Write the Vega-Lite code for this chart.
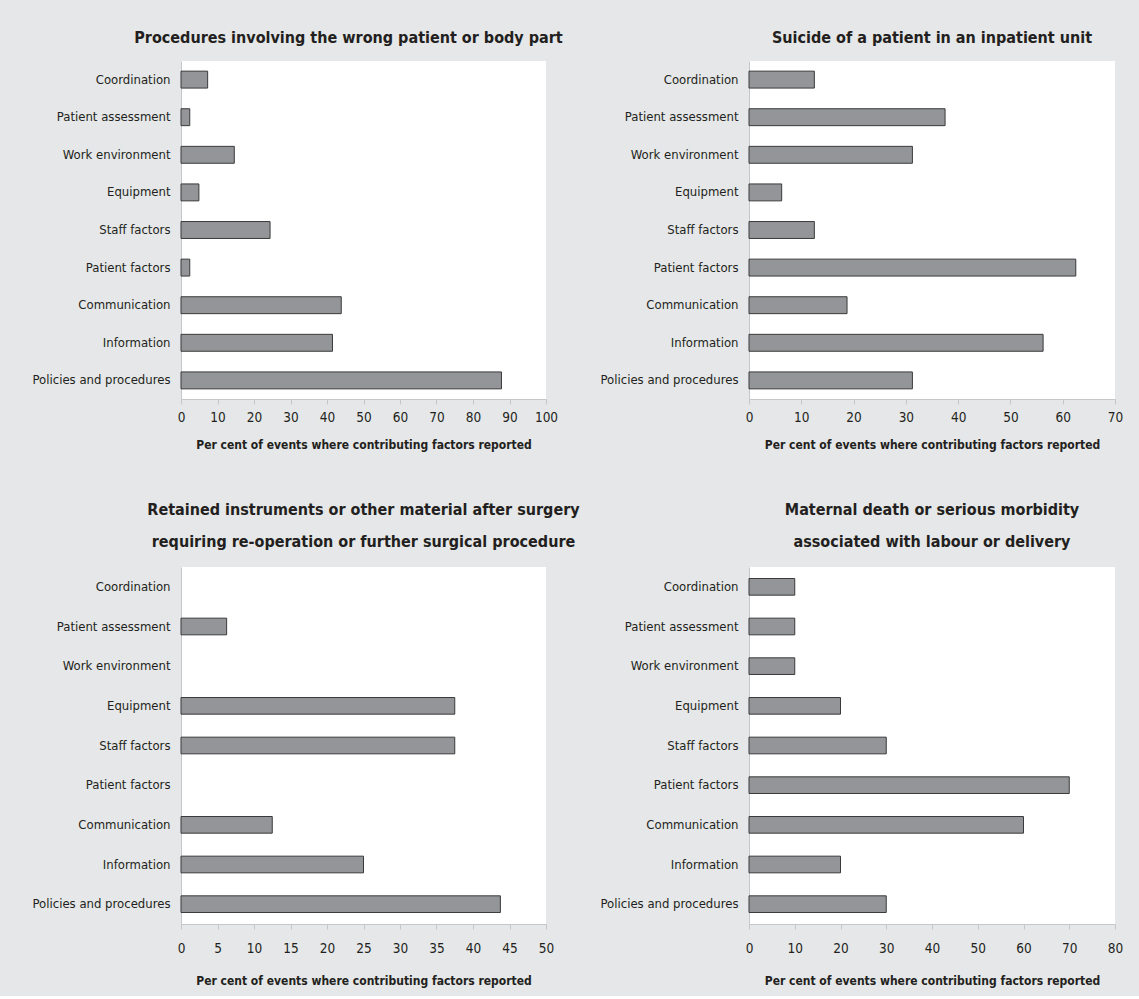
{
  "$schema": "https://vega.github.io/schema/vega-lite/v6.json",
  "padding": {"left": 31, "top": 30, "right": 18, "bottom": 9},
  "datasets": {
    "factors": [
      {"panel": "wrong", "factor": "Coordination", "pct": 7.3},
      {"panel": "wrong", "factor": "Patient assessment", "pct": 2.4},
      {"panel": "wrong", "factor": "Work environment", "pct": 14.6},
      {"panel": "wrong", "factor": "Equipment", "pct": 4.9},
      {"panel": "wrong", "factor": "Staff factors", "pct": 24.4},
      {"panel": "wrong", "factor": "Patient factors", "pct": 2.4},
      {"panel": "wrong", "factor": "Communication", "pct": 43.9},
      {"panel": "wrong", "factor": "Information", "pct": 41.5},
      {"panel": "wrong", "factor": "Policies and procedures", "pct": 87.8},
      {"panel": "suicide", "factor": "Coordination", "pct": 12.5},
      {"panel": "suicide", "factor": "Patient assessment", "pct": 37.5},
      {"panel": "suicide", "factor": "Work environment", "pct": 31.25},
      {"panel": "suicide", "factor": "Equipment", "pct": 6.25},
      {"panel": "suicide", "factor": "Staff factors", "pct": 12.5},
      {"panel": "suicide", "factor": "Patient factors", "pct": 62.5},
      {"panel": "suicide", "factor": "Communication", "pct": 18.75},
      {"panel": "suicide", "factor": "Information", "pct": 56.25},
      {"panel": "suicide", "factor": "Policies and procedures", "pct": 31.25},
      {"panel": "retained", "factor": "Coordination", "pct": 0},
      {"panel": "retained", "factor": "Patient assessment", "pct": 6.25},
      {"panel": "retained", "factor": "Work environment", "pct": 0},
      {"panel": "retained", "factor": "Equipment", "pct": 37.5},
      {"panel": "retained", "factor": "Staff factors", "pct": 37.5},
      {"panel": "retained", "factor": "Patient factors", "pct": 0},
      {"panel": "retained", "factor": "Communication", "pct": 12.5},
      {"panel": "retained", "factor": "Information", "pct": 25},
      {"panel": "retained", "factor": "Policies and procedures", "pct": 43.75},
      {"panel": "maternal", "factor": "Coordination", "pct": 10},
      {"panel": "maternal", "factor": "Patient assessment", "pct": 10},
      {"panel": "maternal", "factor": "Work environment", "pct": 10},
      {"panel": "maternal", "factor": "Equipment", "pct": 20},
      {"panel": "maternal", "factor": "Staff factors", "pct": 30},
      {"panel": "maternal", "factor": "Patient factors", "pct": 70},
      {"panel": "maternal", "factor": "Communication", "pct": 60},
      {"panel": "maternal", "factor": "Information", "pct": 20},
      {"panel": "maternal", "factor": "Policies and procedures", "pct": 30}
    ]
  },
  "vconcat": [
    {
      "hconcat": [
        {
          "data": {"name": "factors"},
          "transform": [{"filter": "datum.panel === 'wrong' && datum.pct > 0"}],
          "title": {"text": "Procedures involving the wrong patient or body part", "offset": 15, "dx": -15},
          "width": 365,
          "height": 338,
          "mark": {"type": "bar", "color": "#939598", "stroke": "#3a3a3a", "strokeWidth": 1},
          "encoding": {
            "y": {"field": "factor", "type": "nominal", "title": null,
                  "scale": {"domain": ["Coordination", "Patient assessment", "Work environment", "Equipment", "Staff factors", "Patient factors", "Communication", "Information", "Policies and procedures"], "paddingInner": 0.55, "paddingOuter": 0.27}},
            "x": {"field": "pct", "type": "quantitative", "title": "Per cent of events where contributing factors reported",
                  "scale": {"domain": [0, 100], "nice": false},
                  "axis": {"values": [0, 10, 20, 30, 40, 50, 60, 70, 80, 90, 100], "labelPadding": 6, "titlePadding": 16}}
          }
        },
        {
          "data": {"name": "factors"},
          "transform": [{"filter": "datum.panel === 'suicide' && datum.pct > 0"}],
          "title": {"text": "Suicide of a patient in an inpatient unit", "offset": 15},
          "width": 366,
          "height": 338,
          "mark": {"type": "bar", "color": "#939598", "stroke": "#3a3a3a", "strokeWidth": 1},
          "encoding": {
            "y": {"field": "factor", "type": "nominal", "title": null,
                  "scale": {"domain": ["Coordination", "Patient assessment", "Work environment", "Equipment", "Staff factors", "Patient factors", "Communication", "Information", "Policies and procedures"], "paddingInner": 0.55, "paddingOuter": 0.27}},
            "x": {"field": "pct", "type": "quantitative", "title": "Per cent of events where contributing factors reported",
                  "scale": {"domain": [0, 70], "nice": false},
                  "axis": {"values": [0, 10, 20, 30, 40, 50, 60, 70], "labelPadding": 6, "titlePadding": 16}}
          }
        }
      ],
      "spacing": 203,
      "bounds": "flush"
    },
    {
      "hconcat": [
        {
          "data": {"name": "factors"},
          "transform": [{"filter": "datum.panel === 'retained' && datum.pct > 0"}],
          "title": {"text": ["Retained instruments or other material after surgery", "requiring re-operation or further surgical procedure"], "offset": 17, "lineHeight": 32},
          "width": 365,
          "height": 357,
          "mark": {"type": "bar", "color": "#939598", "stroke": "#3a3a3a", "strokeWidth": 1},
          "encoding": {
            "y": {"field": "factor", "type": "nominal", "title": null,
                  "scale": {"domain": ["Coordination", "Patient assessment", "Work environment", "Equipment", "Staff factors", "Patient factors", "Communication", "Information", "Policies and procedures"], "paddingInner": 0.58, "paddingOuter": 0.29}},
            "x": {"field": "pct", "type": "quantitative", "title": "Per cent of events where contributing factors reported",
                  "scale": {"domain": [0, 50], "nice": false},
                  "axis": {"values": [0, 5, 10, 15, 20, 25, 30, 35, 40, 45, 50], "labelPadding": 12, "titlePadding": 21}}
          }
        },
        {
          "data": {"name": "factors"},
          "transform": [{"filter": "datum.panel === 'maternal' && datum.pct > 0"}],
          "title": {"text": ["Maternal death or serious morbidity", "associated with labour or delivery"], "offset": 17, "lineHeight": 32},
          "width": 366,
          "height": 357,
          "mark": {"type": "bar", "color": "#939598", "stroke": "#3a3a3a", "strokeWidth": 1},
          "encoding": {
            "y": {"field": "factor", "type": "nominal", "title": null,
                  "scale": {"domain": ["Coordination", "Patient assessment", "Work environment", "Equipment", "Staff factors", "Patient factors", "Communication", "Information", "Policies and procedures"], "paddingInner": 0.58, "paddingOuter": 0.29}},
            "x": {"field": "pct", "type": "quantitative", "title": "Per cent of events where contributing factors reported",
                  "scale": {"domain": [0, 80], "nice": false},
                  "axis": {"values": [0, 10, 20, 30, 40, 50, 60, 70, 80], "labelPadding": 12, "titlePadding": 21}}
          }
        }
      ],
      "spacing": 203,
      "bounds": "flush"
    }
  ],
  "spacing": 506,
  "bounds": "flush",
  "config": {
    "background": "#e6e7e8",
    "font": "Liberation Sans Narrow, DejaVu Sans Condensed, sans-serif",
    "view": {"fill": "#ffffff", "stroke": null},
    "axis": {
      "grid": false,
      "domainColor": "#c6c7c8",
      "tickColor": "#c6c7c8",
      "labelColor": "#231f20",
      "titleColor": "#231f20",
      "labelFont": "Liberation Sans Narrow, DejaVu Sans Condensed, sans-serif",
      "titleFont": "Liberation Sans Narrow, DejaVu Sans Condensed, sans-serif"
    },
    "axisY": {"ticks": false, "labelFontSize": 13, "labelPadding": 11, "labelFontWeight": "normal"},
    "axisX": {"tickSize": 5, "labelFontSize": 13.5, "titleFontSize": 12, "titleFontWeight": "bold", "labelFlush": false, "labelOverlap": false},
    "title": {"fontSize": 16, "fontWeight": "bold", "color": "#231f20", "anchor": "middle", "font": "Liberation Sans Narrow, DejaVu Sans Condensed, sans-serif"}
  }
}
